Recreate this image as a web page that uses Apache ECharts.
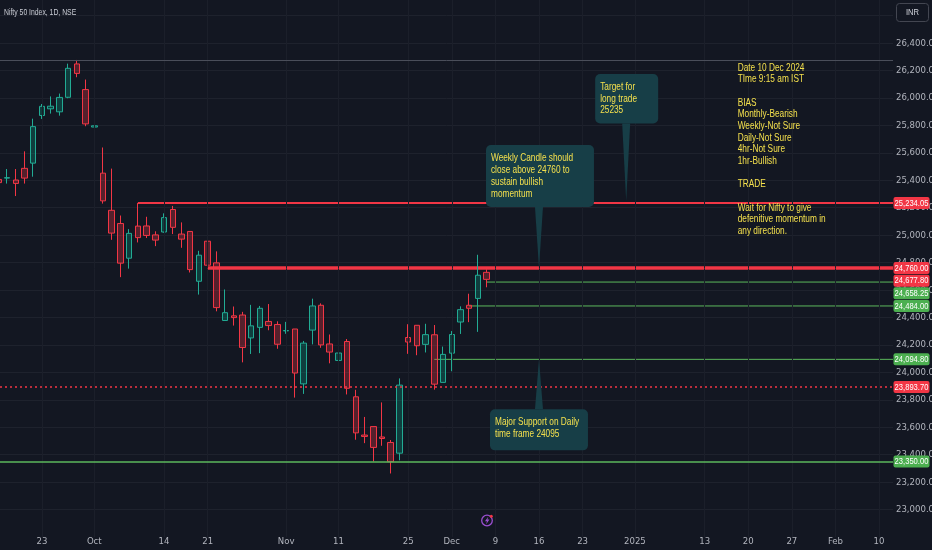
<!DOCTYPE html>
<html lang="en">
<head>
<meta charset="UTF-8">
<title>Nifty 50 Index, 1D, NSE</title>
<style>
    html, body { margin: 0; padding: 0; background: #131722; }
    #main { width: 932px; height: 550px; }
</style>
</head>
<body>
<div id="main"></div>
<script src="https://cdn.jsdelivr.net/npm/echarts@6.0.0/dist/echarts.min.js"></script>
<script>
    // NSE trading calendar (weekends + these holidays skipped)
    var holidays = ['2024-10-02', '2024-11-15', '2024-11-20', '2024-12-25'];
    var firstDay = '2024-09-16';
    var dayCount = 104;

    // daily candles, 16 Sep -> 6 Dec 2024
    var opens = [
        25406, 25416, 25402, 25487, 25525,
        25872, 25921, 25899, 26005, 26248,
        26061, 25788, 25452, 25181,
        25085, 24832, 25066, 25067, 25002,
        25023, 25187, 25008, 25027, 24664,
        24956, 24798, 24378, 24412, 24418,
        24251, 24328, 24371, 24349, 24302,
        24316, 23916, 24308, 24489, 24207,
        24087, 24225, 23822, 23543,
        23605, 23529, 23489, 23411,
        24254, 24343, 24204, 24274, 23927,
        24140, 24367, 24489, 24539, 24729
    ];
    var highs = [
        25445, 25482, 25482, 25611, 25849,
        25956, 26011, 26032, 26250, 26277,
        26134, 25907, 25639, 25485,
        25143, 25044, 25234, 25134, 25028,
        25159, 25213, 25093, 25029, 24886,
        24978, 24882, 24604, 24480, 24441,
        24492, 24484, 24498, 24372, 24368,
        24316, 24229, 24537, 24503, 24276,
        24336, 24243, 23873, 23675,
        23606, 23781, 23507, 23956,
        24351, 24343, 24354, 24345, 24188,
        24301, 24481, 24573, 24857, 24751
    ];
    var lows = [
        25361, 25376, 25285, 25376, 25426,
        25847, 25886, 25871, 25998, 26151,
        25794, 25739, 25230, 24966,
        24694, 24756, 24947, 24979, 24920,
        25018, 25008, 24908, 24728, 24567,
        24679, 24445, 24378, 24341, 24073,
        24134, 24140, 24307, 24172, 24281,
        23816, 23843, 24204, 24179, 24066,
        24004, 23839, 23509, 23484,
        23350, 23465, 23263, 23359,
        24135, 24125, 24145, 23874, 23927,
        24008, 24280, 24366, 24295, 24620
    ];
    var closes = [
        25383, 25419, 25377, 25416, 25791,
        25939, 25940, 26004, 26216, 26179,
        25811, 25797, 25250, 25015,
        24796, 25013, 24982, 24998, 24964,
        25128, 25057, 24971, 24749, 24854,
        24781, 24472, 24435, 24399, 24181,
        24339, 24467, 24341, 24205, 24305,
        23995, 24213, 24484, 24200, 24148,
        24141, 23884, 23559, 23533,
        23453, 23518, 23349, 23907,
        24221, 24194, 24275, 23914, 24131,
        24276, 24457, 24467, 24708, 24677.8
    ];

    // time scale labels
    var tickDates = ['2024-09-16', '2024-09-23', '2024-10-01', '2024-10-14', '2024-10-21', '2024-11-01',
        '2024-11-11', '2024-11-25', '2024-12-02', '2024-12-09', '2024-12-16', '2024-12-23',
        '2025-01-01', '2025-01-13', '2025-01-20', '2025-01-27', '2025-02-03', '2025-02-10'];
    var tickLabels = ['16', '23', 'Oct', '14', '21', 'Nov', '11', '25', 'Dec', '9', '16', '23',
        '2025', '13', '20', '27', 'Feb', '10'];

    // drawn levels
    var athLevel = 26277.35;
    var redLevels = [25234.05, 24760.00];
    var redFrom = ['2024-10-09', '2024-10-21'];
    var greenLevels = [24658.25, 24484.00, 24094.80];
    var greenFrom = ['2024-12-06', '2024-12-04', '2024-11-28'];
    var dottedLevel = 23893.70;
    var supportLevel = 23350.00;
    var lastClose = 24677.80;

    var RED = '#f23645', GREEN = '#4caf50', LINE_GREEN = '#5cb85c', YELLOW = '#f4e04d';
    var BOX = '#173e47', AXIS_TXT = '#b2b5be';
    var NARROW = "'Liberation Sans Narrow', 'DejaVu Sans Condensed', 'Liberation Sans', sans-serif";

    var buildDays = function (start, n) {
        var out = [], d = new Date(start + 'T00:00:00Z');
        while (out.length < n) {
            var wd = d.getUTCDay(), s = d.toISOString().slice(0, 10);
            if (wd !== 0 && wd !== 6 && holidays.indexOf(s) < 0) out.push(s);
            d.setUTCDate(d.getUTCDate() + 1);
        }
        return out;
    };
    var days = buildDays(firstDay, dayCount);
    var idx = function (d) { return days.indexOf(d); };

    var fmtPrice = function (v) {
        var p = v.toFixed(2).split('.');
        return p[0].replace(/\B(?=(\d{3})+(?!\d))/g, ',') + '.' + p[1];
    };

    var candles = opens.map(function (o, i) {
        return [i, o, closes[i], lows[i], highs[i]];
    });

    var xMin = 0.188, xMax = 102.6;

    var tickIdx = tickDates.map(idx);
    var labelOf = {};
    tickIdx.forEach(function (t, i) { labelOf[t] = tickLabels[i]; });

    // horizontal rays that start at a candle and run to the price scale
    var ray = function (from, v, color, width) {
        return {
            type: 'line',
            silent: true,
            symbol: 'none',
            z: 3,
            data: [[idx(from), v], [xMax, v]],
            lineStyle: { color: color, width: width }
        };
    };

    var vGrid = tickIdx.filter(function (t) { return t > xMin; }).map(function (t) {
        return { xAxis: t };
    });

    var chart = echarts.init(document.getElementById('main'));

    var series = [
        {
            type: 'line',
            data: [],
            silent: true,
            markLine: {
                silent: true,
                symbol: ['none', 'none'],
                label: { show: false },
                lineStyle: { color: '#1b1f2a', width: 1, type: 'solid' },
                data: vGrid
            }
        },
        {
            type: 'candlestick',
            barWidth: 6,
            z: 4,
            data: candles,
            itemStyle: {
                color: 'rgba(8,153,129,0.3)',
                color0: 'rgba(242,54,69,0.3)',
                borderColor: '#22ab94',
                borderColor0: RED,
                borderWidth: 1
            },
            markLine: {
                silent: true,
                symbol: ['none', 'none'],
                label: { show: false },
                data: [
                    { yAxis: athLevel, lineStyle: { color: '#4a4e5a', width: 1, type: 'solid' } },
                    { yAxis: dottedLevel, lineStyle: { color: RED, width: 1.5, type: [2, 3] } },
                    { yAxis: supportLevel, lineStyle: { color: LINE_GREEN, width: 1.5, type: 'solid' } }
                ]
            }
        }
    ];
    redLevels.forEach(function (v, i) {
        series.push(ray(redFrom[i], v, RED, i === 0 ? 2 : 3.5));
    });
    greenLevels.forEach(function (v, i) {
        series.push(ray(greenFrom[i], v, LINE_GREEN, 1));
    });

    var option = {
        backgroundColor: '#131722',
        animation: false,
        grid: { left: 0, right: 39, top: 0, height: 537, outerBoundsMode: 'none' },
        xAxis: {
            type: 'value',
            min: xMin,
            max: xMax,
            offset: -9,
            axisLine: { show: false },
            axisTick: { show: false },
            splitLine: { show: false },
            axisLabel: {
                customValues: tickIdx,
                color: AXIS_TXT,
                fontSize: 9.5,
                fontFamily: NARROW,
                margin: 9,
                formatter: function (v) { return labelOf[v] || ''; }
            }
        },
        yAxis: {
            type: 'value',
            position: 'right',
            min: 22800,
            max: 26714,
            interval: 200,
            axisLine: { show: false },
            axisTick: { show: false },
            splitLine: { showMinLine: false, showMaxLine: false, lineStyle: { color: '#1e222d' } },
            axisLabel: {
                showMinLabel: false,
                showMaxLabel: false,
                color: AXIS_TXT,
                fontSize: 9.5,
                fontFamily: NARROW,
                margin: 3,
                formatter: function (v) { return v >= 26600 ? '' : fmtPrice(v); }
            }
        },
        series: series
    };
    chart.setOption(option);

    // overlay: price tags, notes, header
    var yPix = function (v) { return chart.convertToPixel({ yAxisIndex: 0 }, v); };
    var pt = function (i, v) { return chart.convertToPixel({ gridIndex: 0 }, [i, v]); };
    var els = [];

    var tags = [
        { v: redLevels[0], c: RED }, { v: redLevels[1], c: RED }, { v: lastClose, c: RED },
        { v: greenLevels[0], c: GREEN }, { v: greenLevels[1], c: GREEN }, { v: greenLevels[2], c: GREEN },
        { v: dottedLevel, c: RED }, { v: supportLevel, c: GREEN }
    ];
    tags.sort(function (a, b) { return b.v - a.v; });
    var prev = -100;
    tags.forEach(function (t) {
        var y = Math.max(yPix(t.v), prev + 12.6);
        prev = y;
        els.push({ type: 'rect', z: 100, shape: { x: 893.5, y: y - 6, width: 36, height: 12, r: 2 }, style: { fill: t.c } });
        els.push({
            type: 'text', z: 101, x: 911.5, y: y, scaleX: 0.8,
            style: { text: fmtPrice(t.v), fill: '#ffffff', font: "9.5px 'Liberation Sans'", align: 'center', verticalAlign: 'middle' }
        });
    });

    var note = function (x, y, lines) {
        els.push({
            type: 'text', z: 60, x: x, y: y, scaleX: 0.72,
            style: { text: lines.join('\n'), fill: YELLOW, font: "11.5px 'Liberation Sans'", lineHeight: 11.67, verticalAlign: 'top' }
        });
    };
    var callout = function (tip, bx, by, bw, bh, down) {
        var baseY = down ? by + bh : by;
        els.push({ type: 'rect', z: 50, shape: { x: bx, y: by, width: bw, height: bh, r: 5 }, style: { fill: BOX } });
        els.push({ type: 'polygon', z: 50, shape: { points: [[tip[0] - 4, baseY], [tip[0] + 4, baseY], [tip[0], tip[1]]] }, style: { fill: BOX } });
    };

    var tipA = pt(idx('2024-12-16'), redLevels[1]);
    callout(tipA, tipA[0] - 53, tipA[1] - 123, 108, 62, true);
    note(tipA[0] - 48, tipA[1] - 115.6, ['Weekly Candle should', 'close above 24760 to', 'sustain bullish', 'momentum']);

    var tipB = pt(idx('2024-12-31'), redLevels[0]);
    tipB[1] -= 2;
    callout(tipB, tipB[0] - 31, tipB[1] - 127, 63, 49.5, true);
    note(tipB[0] - 26, tipB[1] - 120, ['Target for', 'long trade', '25235']);

    var tipC = pt(idx('2024-12-16'), greenLevels[2]);
    callout(tipC, tipC[0] - 49, tipC[1] + 50, 98, 41, false);
    note(tipC[0] - 44, tipC[1] + 57, ['Major Support on Daily', 'time frame 24095']);

    note(737.7, 61.5, ['Date 10 Dec 2024', 'TIme 9:15 am IST', '', 'BIAS', 'Monthly-Bearish', 'Weekly-Not Sure',
        'Daily-Not Sure', '4hr-Not Sure', '1hr-Bullish', '', 'TRADE', '', 'Wait for Nifty to give',
        'defenitive momentum in', 'any direction.']);

    // header + currency button
    els.push({
        type: 'text', z: 60, x: 4, y: 12.5, scaleX: 0.72,
        style: { text: 'Nifty 50 Index, 1D, NSE', fill: '#c9ccd4', font: "9.5px 'Liberation Sans'", verticalAlign: 'middle' }
    });
    els.push({ type: 'rect', z: 60, shape: { x: 896.5, y: 3.5, width: 32, height: 18, r: 3 }, style: { fill: '#131722', stroke: '#434651', lineWidth: 1 } });
    els.push({
        type: 'text', z: 61, x: 912.5, y: 12.8, scaleX: 0.8,
        style: { text: 'INR', fill: '#d1d4dc', font: "9.5px 'Liberation Sans'", align: 'center', verticalAlign: 'middle' }
    });

    // small lightning marker on the time scale
    els.push({ type: 'circle', z: 60, shape: { cx: 487, cy: 520.5, r: 5.3 }, style: { fill: '#131722', stroke: '#9b4fd1', lineWidth: 1.3 } });
    els.push({
        type: 'polygon', z: 61,
        shape: { points: [[488.4, 516.6], [485, 521.2], [487, 521.2], [486, 524.4], [489.4, 519.6], [487.4, 519.6]] },
        style: { fill: '#9b4fd1' }
    });
    els.push({ type: 'circle', z: 62, shape: { cx: 491.3, cy: 516.2, r: 1.5 }, style: { fill: RED } });

    chart.setOption({ graphic: { elements: els } });
</script>
</body>
</html>
